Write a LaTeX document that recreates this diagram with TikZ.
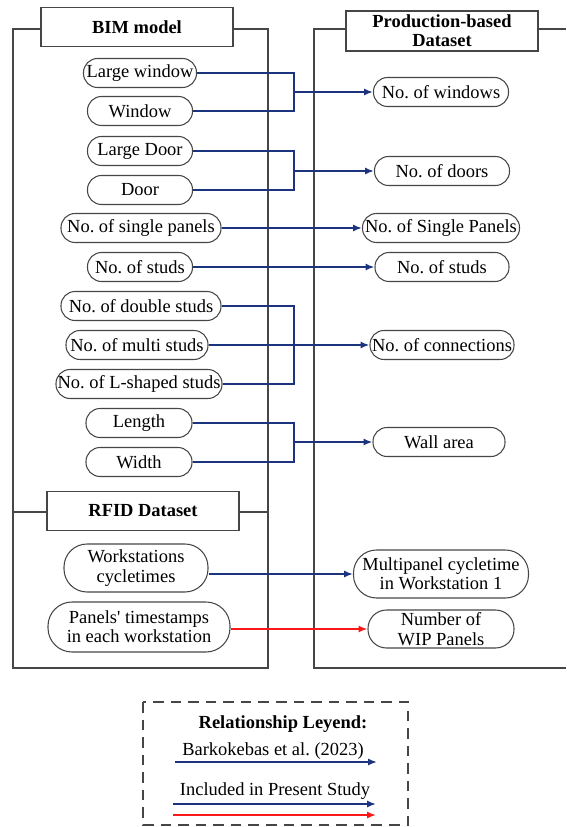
\documentclass[tikz,border=0pt]{standalone}
\usepackage{fontspec}
\setmainfont{Liberation Serif}[Ligatures=TeXOff]
\usetikzlibrary{arrows.meta}
\definecolor{linkblue}{RGB}{28,52,125}
\definecolor{linkred}{RGB}{250,25,25}
\definecolor{framegray}{RGB}{70,70,70}
\frenchspacing

\begin{document}
\begin{tikzpicture}[x=0.02cm,y=-0.02cm,
  font=\fontsize{10.5}{11}\selectfont,
  pill/.style={draw=framegray, line width=0.6pt, rectangle, rounded corners=0.28cm,
    minimum height=0.58cm, minimum width=#1*0.02cm, inner sep=0pt},
  tallpill/.style={pill=#1, minimum height=0.96cm, rounded corners=0.46cm, align=center},
  titlebox/.style={draw=framegray, line width=0.6pt, fill=white, font=\fontsize{10.5}{11}\selectfont\bfseries,
    minimum width=3.84cm, minimum height=0.78cm, align=center, inner sep=0pt},
  frame/.style={draw=framegray, line width=0.6pt},
  wire/.style={draw=linkblue, line width=1pt},
  link/.style={wire, -{Latex[length=5pt,width=4pt]}},
  newlink/.style={draw=linkred, line width=1pt, -{Latex[length=5pt,width=4pt]}}]
\useasboundingbox (0,0) rectangle (566,827);

% frames
\draw[frame] (13,29) rectangle (268,668);
\draw[frame] (13,512) -- (268,512);
\draw[frame] (566,29) -- (314,29) -- (314,668) -- (566,668);
\node[titlebox] (bim) at (137,27) {BIM model};
\node[titlebox, minimum height=0.8cm] (prod) at (442,31) {Production-based\\Dataset};
\node[titlebox] (rfid) at (143,511) {RFID Dataset};

% BIM model items
\node[pill=113] (lwin) at (140,73) {Large window};
\node[pill=105] (win) at (140,111) {Window};
\node[pill=105] (ldoor) at (140,151) {Large Door};
\node[pill=105] (door) at (140,190) {Door};
\node[pill=160] (sp) at (141,228) {No. of single panels};
\node[pill=105] (st) at (140,267) {No. of studs};
\node[pill=160] (ds) at (141,306) {No. of double studs};
\node[pill=142] (ms) at (137,345) {No. of multi studs};
\node[pill=166] (ls) at (139,384) {No. of L-shaped studs};
\node[pill=106] (len) at (139,423) {Length};
\node[pill=106] (wid) at (139,462) {Width};

% RFID items
\node[tallpill=144] (ws) at (136,568) {Workstations\\cycletimes};
\node[tallpill=182, minimum height=1.0cm, rounded corners=0.48cm] (ts) at (139,627) {Panels' timestamps\\in each workstation};

% production-based items
\node[pill=135] (nwin) at (441,92) {No. of windows};
\node[pill=135] (ndoor) at (442,171) {No. of doors};
\node[pill=157] (nsp) at (441,228) {No. of Single Panels};
\node[pill=134] (nst) at (442,267) {No. of studs};
\node[pill=144] (ncon) at (442,345) {No. of connections};
\node[pill=132] (nwall) at (439,442) {Wall area};
\node[tallpill=175] (nmp) at (441,574) {Multipanel cycletime\\in Workstation 1};
\node[tallpill=146, minimum height=0.76cm, rounded corners=0.37cm] (nwip) at (441,629) {Number of\\WIP Panels};

% brackets
\coordinate (wb) at (294,92);
\coordinate (db) at (294,171);
\coordinate (cb) at (294,345);
\coordinate (ab) at (294,442);
\draw[wire] (lwin.east) -| (wb) |- (win.east);
\draw[wire] (ldoor.east) -| (db) |- (door.east);
\draw[wire] (ds.east) -| (cb) |- (ls.east);
\draw[wire] (len.east) -| (ab) |- (wid.east);

% relations
\draw[link] (wb) -- (nwin);
\draw[link] (db) -- (ndoor);
\draw[link] (sp) -- (nsp);
\draw[link] (st) -- (nst);
\draw[link] (ms) -- (ncon);
\draw[link] (ab) -- (nwall);
\draw[link] (ws.east |- nmp.west) -- (nmp.west);
\draw[newlink] (ts.east |- nwip.west) -- (nwip.west);

% legend
\draw[frame, dashed, dash pattern=on 6pt off 4pt] (143,702) rectangle (408,825);
\node[font=\fontsize{10.5}{11}\selectfont\bfseries] (leg) at (283,724) {Relationship Leyend:};
\node (prev) at (273,751) {Barkokebas et al. (2023)};
\node (pres) at (275,791) {Included in Present Study};
\coordinate (a1) at (175,762); \coordinate (b1) at (377,762);
\coordinate (a2) at (173,804); \coordinate (b2) at (376,804);
\coordinate (a3) at (173,815); \coordinate (b3) at (376,815);
\draw[link] (a1) -- (b1);
\draw[link] (a2) -- (b2);
\draw[newlink] (a3) -- (b3);
\end{tikzpicture}
\end{document}
